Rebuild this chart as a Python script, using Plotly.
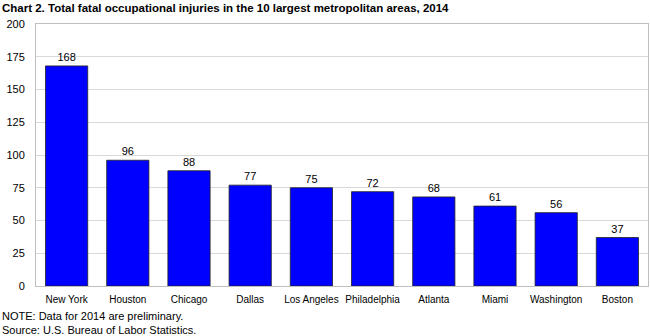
import plotly.graph_objects as go

categories = ["New York", "Houston", "Chicago", "Dallas", "Los Angeles",
              "Philadelphia", "Atlanta", "Miami", "Washington", "Boston"]
values = [168, 96, 88, 77, 75, 72, 68, 61, 56, 37]
y_ticks = [0, 25, 50, 75, 100, 125, 150, 175, 200]

fig = go.Figure(go.Bar(
    x=categories, y=values,
    marker=dict(color="#0000FF", line=dict(color="#222222", width=0.8)),
    width=0.69,
    text=[str(v) for v in values], textposition="outside",
    textfont=dict(family="Liberation Sans, Arial", size=11, color="#000000"),
    cliponaxis=False,
))

fig.update_layout(
    width=650, height=336,
    margin=dict(l=36, r=2, t=24, b=50),
    paper_bgcolor="white", plot_bgcolor="white",
    font=dict(family="Liberation Sans, Arial", size=11, color="#000000"),
    showlegend=False,
    bargap=0.31,
    xaxis=dict(showgrid=False, showline=True, linecolor="#BFBFBF", linewidth=1,
               mirror=True, ticks="", tickfont=dict(size=10), ticklabelstandoff=4),
    yaxis=dict(range=[0, 200], tickvals=y_ticks, showgrid=True,
               gridcolor="#D9D9D9", gridwidth=1, showline=True, linecolor="#BFBFBF",
               linewidth=1, mirror=True, ticks="", zeroline=False,
               tickfont=dict(size=11), ticklabelstandoff=8),
    annotations=[
        dict(text="<b>Chart 2. Total fatal occupational injuries in the 10 largest metropolitan areas, 2014</b>",
             x=-36/612, y=1 + 24/262, xref="paper", yref="paper", xanchor="left", yanchor="top",
             showarrow=False, font=dict(size=11.5)),
        dict(text="NOTE: Data for 2014 are preliminary.<br>Source: U.S. Bureau of Labor Statistics.",
             x=-36/612, y=-52/262, xref="paper", yref="paper", xanchor="left", yanchor="bottom",
             showarrow=False, align="left", font=dict(size=11)),
    ],
)
fig.write_html("out.html")
